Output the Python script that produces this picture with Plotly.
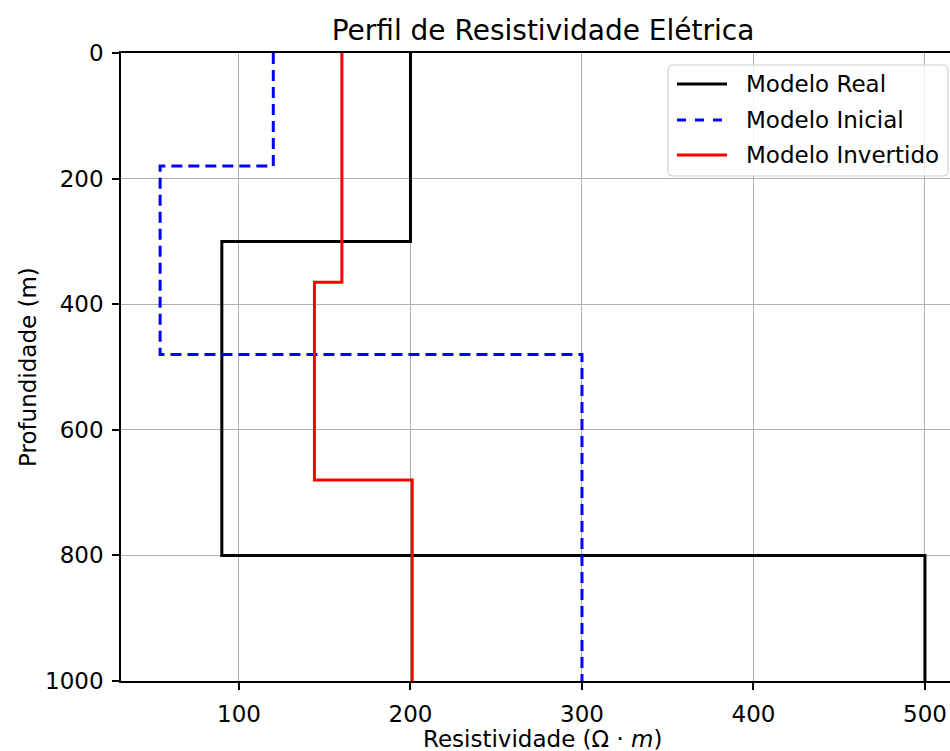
import plotly.graph_objects as go

# Layer tops (m) and resistivities (Ohm.m); last value repeated to close the step at max depth
real_depth = [0, 300, 800, 1000]
real_rho = [200, 90, 500, 500]

init_depth = [0, 180, 480, 1000]
init_rho = [120, 54, 300, 300]

inv_depth = [0, 365, 680, 1000]
inv_rho = [160, 144, 201, 201]

x_ticks = [100, 200, 300, 400, 500]
y_ticks = [0, 200, 400, 600, 800, 1000]

series_names = ["Modelo Real", "Modelo Inicial", "Modelo Invertido"]
series_colors = ["black", "blue", "red"]
series_dash = ["solid", "11px,6px", "solid"]

FONT = "DejaVu Sans"
W, H = 950, 751
L, T, B = 121, 53, 70
PW, PH = W - L, H - T - B
LW = 3


def xp(px):
    return (px - L) / PW


def yp(py):
    return 1 - (py - T) / PH


fig = go.Figure()
for xs, ys, nm, col, dsh in [(real_rho, real_depth, series_names[0], series_colors[0], series_dash[0]),
                             (init_rho, init_depth, series_names[1], series_colors[1], series_dash[1]),
                             (inv_rho, inv_depth, series_names[2], series_colors[2], series_dash[2])]:
    fig.add_trace(go.Scatter(x=xs, y=ys, mode="lines", line_shape="vh", name=nm,
                             line=dict(color=col, width=LW, dash=dsh)))

fig.update_layout(
    width=W, height=H,
    margin=dict(l=L, r=0, t=T, b=B),
    paper_bgcolor="white", plot_bgcolor="white",
    font=dict(family=FONT, size=23, color="black"),
    title=dict(text="Perfil de Resistividade Elétrica", xref="container", yref="container",
               x=543 / W, xanchor="center", y=1 - 30 / H, yanchor="middle",
               font=dict(family=FONT, size=28, color="black")),
    showlegend=False,
)

fig.update_xaxes(range=[31.2, 514.6], tickvals=x_ticks, ticktext=[str(v) for v in x_ticks],
                 showgrid=True, gridcolor="#b0b0b0", gridwidth=1.4,
                 showline=True, linecolor="black", linewidth=1.7, mirror=True,
                 ticks="outside", ticklen=7, tickwidth=1.5, tickcolor="black",
                 zeroline=False, tickfont=dict(family=FONT, size=23),
                 ticklabelstandoff=5)
fig.update_yaxes(range=[1000, 0], tickvals=y_ticks, ticktext=[str(v) for v in y_ticks],
                 showgrid=True, gridcolor="#b0b0b0", gridwidth=1.4,
                 showline=True, linecolor="black", linewidth=1.7, mirror=False,
                 ticks="outside", ticklen=7, tickwidth=1.5, tickcolor="black",
                 zeroline=False, tickfont=dict(family=FONT, size=23),
                 ticklabelstandoff=4)

fig.add_annotation(text="Resistividade (Ω · <i>m</i>)", xref="paper", yref="paper",
                   x=xp(543), y=yp(739), xanchor="center", yanchor="middle",
                   showarrow=False, font=dict(family=FONT, size=23))
fig.add_annotation(text="Profundidade (m)", xref="paper", yref="paper",
                   x=xp(28), y=yp(367), xanchor="center", yanchor="middle",
                   textangle=-90, showarrow=False, font=dict(family=FONT, size=23))

# Legend box (matplotlib-style, rounded corners)
bx0, bx1, by0, by1, r = 668, 948, 65, 176, 5
path = (f"M {xp(bx0 + r)},{yp(by0)} L {xp(bx1 - r)},{yp(by0)} "
        f"Q {xp(bx1)},{yp(by0)} {xp(bx1)},{yp(by0 + r)} L {xp(bx1)},{yp(by1 - r)} "
        f"Q {xp(bx1)},{yp(by1)} {xp(bx1 - r)},{yp(by1)} L {xp(bx0 + r)},{yp(by1)} "
        f"Q {xp(bx0)},{yp(by1)} {xp(bx0)},{yp(by1 - r)} L {xp(bx0)},{yp(by0 + r)} "
        f"Q {xp(bx0)},{yp(by0)} {xp(bx0 + r)},{yp(by0)} Z")
fig.add_shape(type="path", path=path, xref="paper", yref="paper", layer="above",
              fillcolor="rgba(255,255,255,0.8)", line=dict(color="#d0d0d0", width=1.2))
entry_y = [84, 120, 155]
for i, nm in enumerate(series_names):
    fig.add_shape(type="line", xref="paper", yref="paper", layer="above",
                  x0=xp(677), x1=xp(727), y0=yp(entry_y[i]), y1=yp(entry_y[i]),
                  line=dict(color=series_colors[i], width=LW,
                            dash="dash" if series_dash[i] != "solid" else "solid"))
    fig.add_annotation(text=nm, xref="paper", yref="paper", x=xp(744), y=yp(entry_y[i]),
                       xanchor="left", yanchor="middle", showarrow=False,
                       font=dict(family=FONT, size=23, color="black"))

fig.write_html("out.html")
